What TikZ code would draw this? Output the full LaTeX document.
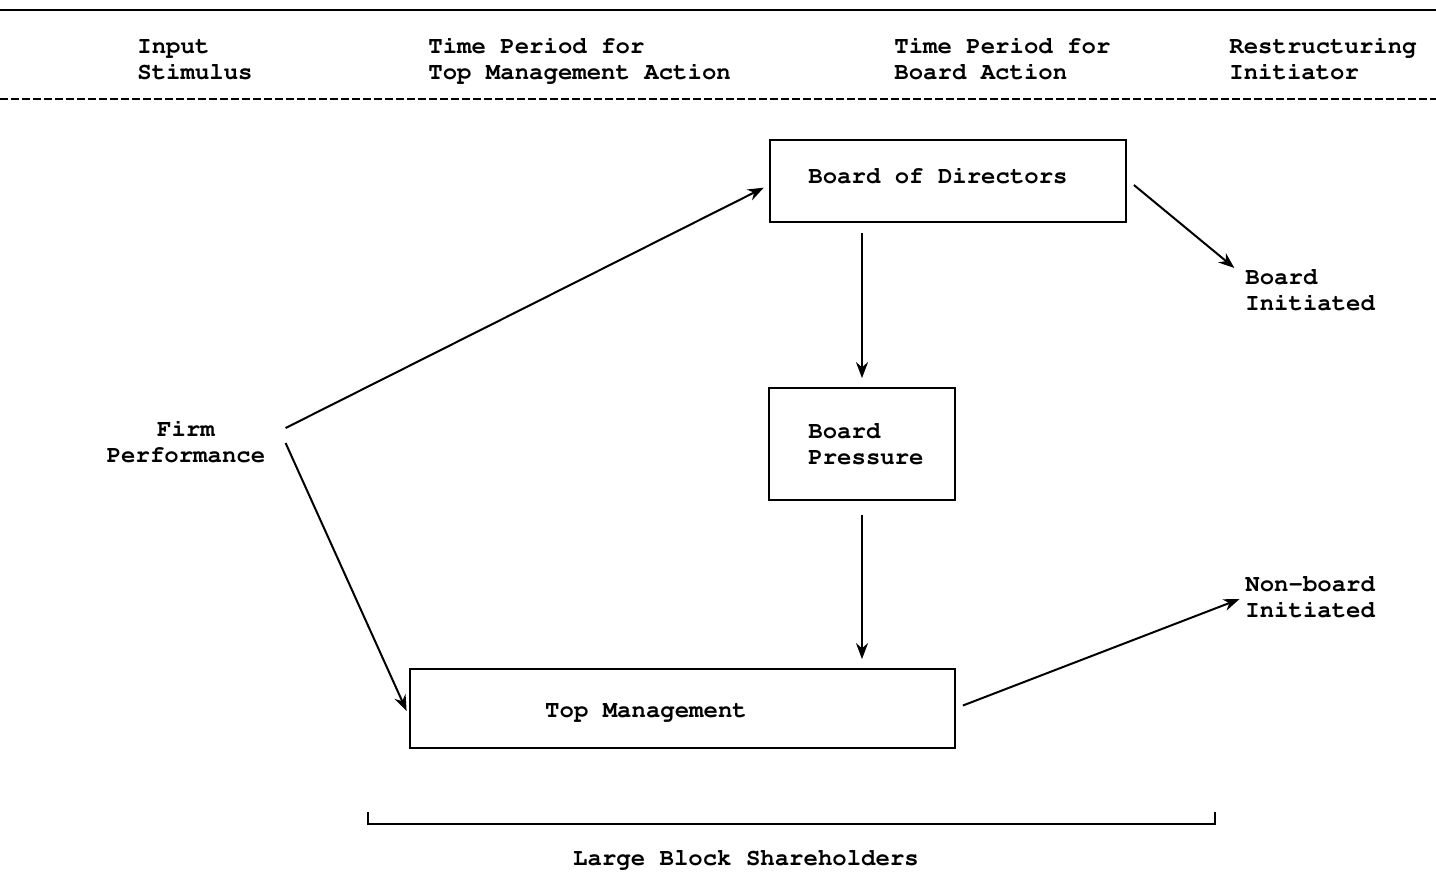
\documentclass[tikz,border=0pt]{standalone}
\usepackage[T1]{fontenc}
\usepackage{courier}
\usetikzlibrary{arrows.meta,calc}

\begin{document}
\begin{tikzpicture}[x=0.5pt, y=-0.5pt, font=\fontsize{12pt}{13pt}\ttfamily\bfseries,
    txt/.style={inner sep=0pt, align=left, anchor=west},
    box/.style={draw, line width=0.9pt, inner sep=0pt},
    arr/.style={-{Stealth[length=8pt, width=6pt]}, line width=1pt, shorten >=3pt}]
  \useasboundingbox (0,0) rectangle (1436,875);
  \draw[line width=1pt] (0,10) -- (1436,10);
  \draw[line width=0.9pt, dash pattern=on 4pt off 1.5pt] (0,99) -- (1436,99);
  \node[txt] (h1) at (137,60) {Input\\Stimulus};
  \node[txt] (h2) at (428,60) {Time Period for\\Top Management Action};
  \node[txt] (h3) at (894,59) {Time Period for\\Board Action};
  \node[txt] (h4) at (1229,59) {Restructuring\\Initiator};
  \node[box, minimum width=178pt, minimum height=41pt, text height=7pt, text depth=4.2pt] (bod) at (948,181) {Board of Directors\hspace*{10pt}};
  \node[box, align=left, minimum width=93pt, minimum height=56pt] (bp) at (862,444) {\hspace*{4pt}Board\\\hspace*{4pt}Pressure};
  \node[box, minimum width=272.5pt, minimum height=39.5pt, text height=9pt, text depth=0.4pt] (tm) at (682.5,708.5) {Top Management\hspace*{36.5pt}};
  \node[inner sep=0pt, align=center] (fp) at (186,442) {Firm\\Performance};
  \node[txt] (bi) at (1245,290) {Board\\Initiated};
  \node[txt] (nb) at (1245,597) {Non-board\\Initiated};
  \path[arr]
    ($(fp.east)+(20,-14)$) edge ([yshift=-2pt]bod.west)
    ($(fp.east)+(20,1)$) edge ([yshift=-4pt]tm.west)
    ($(bod.east)+(7,4)$) edge ($(bi.north west)+(-6,3)$)
    ($(bp.north |- bod.south)+(0,10)$) edge [shorten >=4.5pt] (bp.north)
    ($(bp.south)+(0,14)$) edge [shorten >=4.5pt] (bp.south |- tm.north)
    ($(tm.east)+(7,-3)$) edge (nb.west);
  \draw[line width=0.9pt] (368,812) -- (368,824) -- (1215,824) -- (1215,812);
  \node (lbs) at (746,860) {Large Block Shareholders};
\end{tikzpicture}
\end{document}
